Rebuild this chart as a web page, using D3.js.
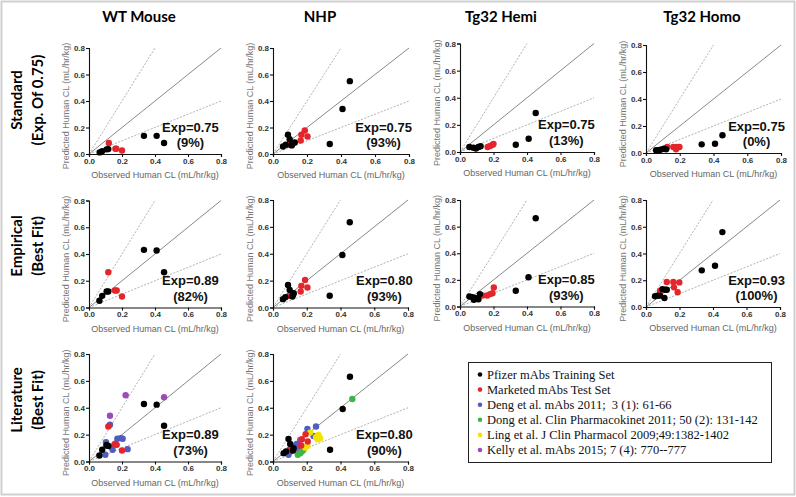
<!DOCTYPE html>
<html><head><meta charset="utf-8">
<script src="https://cdn.jsdelivr.net/npm/d3@7"></script>
<style>
body{margin:0;background:#fff;}
svg text{font-family:"Liberation Sans",Arial,sans-serif;}
</style></head>
<body><svg id="c" width="796" height="497"></svg>
<script>
// ---------- data ----------
const columnTitles = ["WT Mouse", "NHP", "Tg32 Hemi", "Tg32 Homo"];
const rowTitles = [["Standard", "(Exp. Of 0.75)"], ["Empirical", "(Best Fit)"], ["Literature", "(Best Fit)"]];
const tickValues = [0, 0.2, 0.4, 0.6, 0.8];
const xAxisTitle = "Observed Human CL (mL/hr/kg)";
const yAxisTitle = "Predicted Human CL (mL/hr/kg)";
const seriesNames = ["Pfizer mAbs Training Set", "Marketed mAbs Test Set", "Deng et al. mAbs 2011;  3 (1): 61-66",
  "Dong et al. Clin Pharmacokinet 2011; 50 (2): 131-142", "Ling et al. J Clin Pharmacol 2009;49:1382-1402",
  "Kelly et al. mAbs 2015; 7 (4): 770--777"];
const seriesKeys = ["pfizer", "marketed", "deng", "dong", "ling", "kelly"];
const seriesColors = ["#000000", "#e3262b", "#4f5cc0", "#3db54a", "#f4e300", "#9a4db8"];

const expLabels = ["Exp=0.75","Exp=0.75","Exp=0.75","Exp=0.75","Exp=0.89","Exp=0.80","Exp=0.85","Exp=0.93","Exp=0.89","Exp=0.80"];
const pctLabels = ["(9%)","(93%)","(13%)","(0%)","(82%)","(93%)","(93%)","(100%)","(73%)","(90%)"];

// panel 0: WT standard
const wtStdPfizer = [[0.065,0.012],[0.08,0.022],[0.107,0.035],[0.117,0.037],[0.333,0.137],[0.41,0.137],[0.455,0.083]];
const wtStdMarketed = [[0.12,0.083],[0.16,0.04],[0.165,0.04],[0.2,0.026]];
// panel 1: NHP standard
const nhpStdPfizer = [[0.059,0.057],[0.075,0.07],[0.088,0.145],[0.098,0.112],[0.11,0.065],[0.114,0.075],[0.128,0.087],[0.334,0.075],[0.409,0.34],[0.452,0.55]];
const nhpStdMarketed = [[0.094,0.07],[0.163,0.102],[0.167,0.145],[0.187,0.177],[0.203,0.132]];
// panel 2: Tg32 Hemi standard
const hemiStdPfizer = [[0.056,0.037],[0.08,0.032],[0.095,0.025],[0.11,0.037],[0.123,0.042],[0.333,0.054],[0.41,0.098],[0.452,0.288]];
const hemiStdMarketed = [[0.165,0.037],[0.18,0.044],[0.195,0.054],[0.2,0.06]];
// panel 3: Tg32 Homo standard
const homoStdPfizer = [[0.06,0.02],[0.08,0.022],[0.093,0.027],[0.107,0.032],[0.119,0.027],[0.33,0.064],[0.409,0.069],[0.453,0.131]];
const homoStdMarketed = [[0.126,0.045],[0.162,0.045],[0.178,0.027],[0.182,0.045],[0.198,0.045]];
// panel 4: WT empirical
const wtEmpPfizer = [[0.063,0.05],[0.08,0.087],[0.107,0.12],[0.117,0.12],[0.333,0.431],[0.41,0.426],[0.455,0.264]];
const wtEmpMarketed = [[0.117,0.264],[0.157,0.127],[0.168,0.127],[0.2,0.082]];
// panel 5: NHP empirical
const nhpEmpPfizer = [[0.059,0.062],[0.073,0.077],[0.089,0.168],[0.099,0.131],[0.115,0.082],[0.119,0.094],[0.123,0.106],[0.336,0.087],[0.411,0.391],[0.455,0.634]];
const nhpEmpMarketed = [[0.095,0.087],[0.164,0.119],[0.168,0.161],[0.19,0.205],[0.204,0.149]];
// panel 6: Tg32 Hemi empirical
const hemiEmpPfizer = [[0.056,0.075],[0.075,0.07],[0.083,0.05],[0.095,0.062],[0.11,0.055],[0.119,0.093],[0.333,0.118],[0.409,0.22],[0.452,0.663]];
const hemiEmpMarketed = [[0.135,0.083],[0.163,0.083],[0.179,0.093],[0.194,0.1],[0.202,0.143]];
// panel 7: Tg32 Homo empirical
const homoEmpPfizer = [[0.054,0.08],[0.068,0.085],[0.084,0.085],[0.098,0.134],[0.11,0.067],[0.114,0.129],[0.124,0.129],[0.333,0.274],[0.412,0.308],[0.456,0.56]];
const homoEmpMarketed = [[0.084,0.12],[0.124,0.187],[0.163,0.187],[0.167,0.147],[0.189,0.11],[0.199,0.184]];
// panel 8: WT literature
const wtLitPfizer = [[0.063,0.045],[0.08,0.087],[0.107,0.124],[0.117,0.116],[0.333,0.428],[0.41,0.423],[0.455,0.266]];
const wtLitMarketed = [[0.117,0.261],[0.157,0.129],[0.168,0.124],[0.2,0.082]];
const wtLitDeng = [[0.099,0.05],[0.103,0.144],[0.103,0.117],[0.127,0.274],[0.133,0.107],[0.143,0.087],[0.158,0.129],[0.172,0.169],[0.192,0.174],[0.204,0.169],[0.234,0.092]];
const wtLitKelly = [[0.127,0.341],[0.222,0.493],[0.455,0.478]];
// panel 9: NHP literature
const nhpLitPfizer = [[0.063,0.062],[0.077,0.074],[0.092,0.168],[0.102,0.131],[0.118,0.082],[0.122,0.099],[0.338,0.087],[0.413,0.391],[0.456,0.631]];
const nhpLitMarketed = [[0.098,0.087],[0.167,0.119],[0.171,0.166],[0.193,0.203],[0.206,0.149]];
const nhpLitDeng = [[0.092,0.05],[0.102,0.074],[0.112,0.087],[0.126,0.116],[0.141,0.131],[0.171,0.106],[0.204,0.243],[0.24,0.19],[0.255,0.26]];
const nhpLitDong = [[0.147,0.05],[0.161,0.062],[0.171,0.074],[0.181,0.087],[0.47,0.465]];
const nhpLitLing = [[0.191,0.104],[0.204,0.116],[0.22,0.215],[0.255,0.18],[0.265,0.166],[0.269,0.198],[0.279,0.173]];
const nhpLitKelly = [[0.138,0.124],[0.151,0.092],[0.161,0.161]];

const panelData = [
  {pfizer: wtStdPfizer, marketed: wtStdMarketed},
  {pfizer: nhpStdPfizer, marketed: nhpStdMarketed},
  {pfizer: hemiStdPfizer, marketed: hemiStdMarketed},
  {pfizer: homoStdPfizer, marketed: homoStdMarketed},
  {pfizer: wtEmpPfizer, marketed: wtEmpMarketed},
  {pfizer: nhpEmpPfizer, marketed: nhpEmpMarketed},
  {pfizer: hemiEmpPfizer, marketed: hemiEmpMarketed},
  {pfizer: homoEmpPfizer, marketed: homoEmpMarketed},
  {pfizer: wtLitPfizer, marketed: wtLitMarketed, deng: wtLitDeng, kelly: wtLitKelly},
  {pfizer: nhpLitPfizer, marketed: nhpLitMarketed, deng: nhpLitDeng, dong: nhpLitDong, ling: nhpLitLing, kelly: nhpLitKelly}
];

// ---------- layout ----------
const boxes = [ // [left, right, top, bottom]
  [89,221,48,154],[273,409,48,154],[460,594,43.5,152],[646,781,45,153],
  [89,221,200.5,307.5],[273,408,200,307.5],[460,594,200,306.5],[646,780,200,307],
  [89,221,354,461.5],[273,408,354,461.5]
];
const labelX = [0.615,0.65,0.635,0.655, 0.615,0.66,0.635,0.66, 0.615,0.66];

const svg = d3.select("#c");
svg.append("rect").attr("x",1.5).attr("y",1.5).attr("width",793).attr("height",493)
  .attr("fill","#fff").attr("stroke","#cfcfcf").attr("stroke-width",2);

// column titles
const colTitleX = [139, 320, 501, 702];
columnTitles.forEach((t,i)=>{
  svg.append("text").attr("x",colTitleX[i]).attr("y",22).attr("text-anchor","middle")
    .style("font-family","Lato, 'Open Sans', sans-serif").style("font-weight","bold").style("font-size","15px").text(t);
});
// row titles
const rowCenterY = [100, 246, 400];
rowTitles.forEach((r,i)=>{
  [22, 43].forEach((x,j)=>{
    svg.append("text").attr("transform",`translate(${x},${rowCenterY[i]}) rotate(-90)`)
      .attr("text-anchor","middle")
      .style("font-family","Lato, 'Open Sans', sans-serif").style("font-weight","bold").style("font-size","15px")
      .text(r[j]);
  });
});

const drawOrder = ["kelly","deng","dong","ling","marketed","pfizer"];

panelData.forEach((pd,i)=>{
  const [l,r,t,b] = boxes[i];
  const x = d3.scaleLinear().domain([0,0.8]).range([l,r]);
  const y = d3.scaleLinear().domain([0,0.8]).range([b,t]);
  const g = svg.append("g");

  // reference lines
  const lines = [
    {p:[[0,0],[0.8,0.8]], c:"#7a7a7a", d:null},
    {p:[[0,0],[0.4,0.8]], c:"#a8a8a8", d:"2,1.5"},
    {p:[[0,0],[0.8,0.4]], c:"#a8a8a8", d:"2,1.5"}
  ];
  lines.forEach(L=>{
    g.append("line").attr("x1",x(L.p[0][0])).attr("y1",y(L.p[0][1]))
      .attr("x2",x(L.p[1][0])).attr("y2",y(L.p[1][1]))
      .attr("stroke",L.c).attr("stroke-width",0.9).attr("stroke-dasharray",L.d);
  });

  // axes
  const ax = g.append("g").attr("transform",`translate(0,${b})`)
    .call(d3.axisBottom(x).tickValues(tickValues).tickFormat(d3.format(".1f")).tickSizeOuter(0).tickSize(3).tickPadding(1));
  const ay = g.append("g").attr("transform",`translate(${l},0)`)
    .call(d3.axisLeft(y).tickValues(tickValues).tickFormat(d3.format(".1f")).tickSizeOuter(0).tickSize(3).tickPadding(1));
  [ax,ay].forEach(a=>{
    a.selectAll("path,line").attr("stroke","#111").attr("stroke-width",1.1);
    a.selectAll("text").style("font-size","8px").style("font-weight","bold").attr("fill","#333");
  });

  // axis titles
  g.append("text").attr("x",(l+r)/2).attr("y",b+24).attr("text-anchor","middle")
    .style("font-size","9px").attr("fill","#666").text(xAxisTitle);
  g.append("text").attr("transform",`translate(${l-20},${(t+b)/2+5}) rotate(-90)`).attr("text-anchor","middle")
    .style("font-size","9px").attr("fill","#777").text(yAxisTitle);

  // points
  drawOrder.forEach(k=>{
    if(!pd[k]) return;
    const col = seriesColors[seriesKeys.indexOf(k)];
    g.selectAll(null).data(pd[k]).enter().append("circle")
      .attr("cx",d=>x(d[0])).attr("cy",d=>y(d[1])).attr("r",3.2).attr("fill",col);
  });

  // labels
  g.append("text").attr("x",x(labelX[i])).attr("y",y(0.2)+4.5).attr("text-anchor","middle")
    .style("font-size","13px").style("font-weight","bold").attr("fill","#111").text(expLabels[i]);
  g.append("text").attr("x",x(labelX[i])).attr("y",y(0.085)+4.5).attr("text-anchor","middle")
    .style("font-size","13px").style("font-weight","bold").attr("fill","#111").text(pctLabels[i]);
});

// legend
const lg = svg.append("g");
lg.append("rect").attr("x",468.5).attr("y",362.5).attr("width",303).attr("height",100)
  .attr("fill","#fff").attr("stroke","#222").attr("stroke-width",1);
seriesNames.forEach((s,i)=>{
  const yy = 374.5 + i*15.1;
  lg.append("circle").attr("cx",480).attr("cy",yy).attr("r",2.3).attr("fill",seriesColors[i]);
  lg.append("text").attr("x",487).attr("y",yy+4.3).attr("xml:space","preserve").style("white-space","pre")
    .style("font-family","'Liberation Serif','Times New Roman',serif").style("font-size","12.5px").attr("fill","#111").text(s);
});
</script></body></html>
